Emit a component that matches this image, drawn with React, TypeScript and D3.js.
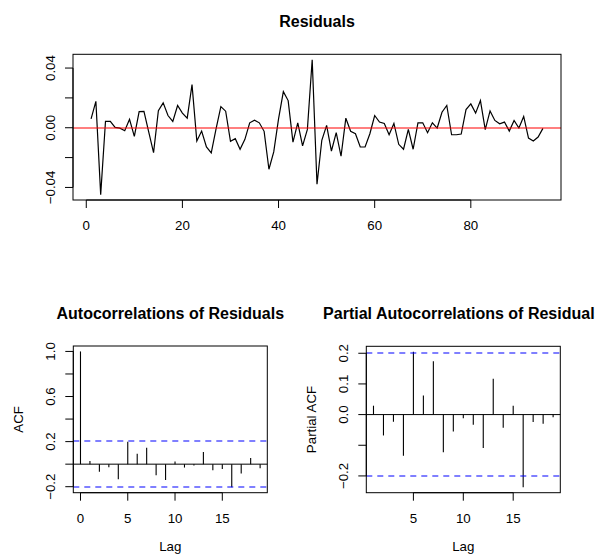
import React from "react";
import * as d3 from "d3";

// residual series, t = 1..95
const residuals = [
  0.006, 0.0177, -0.0448, 0.0043, 0.0043, 0.0002, -0.0003, -0.002, 0.0057, -0.0058,
  0.0108, 0.011, -0.003, -0.0167, 0.0114, 0.0167, 0.0082, 0.0042, 0.0149, 0.0098,
  0.0064, 0.0289, -0.0089, -0.0022, -0.0129, -0.0169, -0.0007, 0.0142, 0.0111, -0.0091,
  -0.0073, -0.0144, -0.0078, 0.0033, 0.0051, 0.0033, -0.0024, -0.0278, -0.0162, 0.006,
  0.0242, 0.0182, -0.0096, 0.0033, -0.0122, -0.0011, 0.0456, -0.0378, -0.0084, 0.0016,
  -0.0156, -0.0033, -0.0191, 0.0064, -0.0024, -0.004, -0.0129, -0.0129, -0.004, 0.0082,
  0.0038, 0.0029, -0.0047, 0.0029, -0.0111, -0.0144, -0.0011, -0.0144, 0.0033, 0.0033,
  -0.0033, 0.0033, -0.0002, 0.0104, 0.0149, -0.0047, -0.0047, -0.0042, 0.0122, 0.016,
  0.0098, 0.0182, -0.0013, 0.0113, 0.0049, 0.0027, 0.0038, -0.0022, 0.0049, -0.0002,
  0.0076, -0.0069, -0.0089, -0.0062, -0.0004,
];

// autocorrelations, lag 0..19
const acfValues = [
  1.0, 0.027, -0.068, -0.027, -0.134, 0.199, 0.092, 0.146, -0.098, -0.14,
  0.024, -0.03, -0.012, 0.107, -0.054, -0.042, -0.205, -0.083, 0.054, -0.036,
];

// partial autocorrelations, lag 1..19
const pacfValues = [
  0.029, -0.068, -0.023, -0.134, 0.205, 0.062, 0.174, -0.123, -0.055, -0.012,
  -0.033, -0.109, 0.117, -0.043, 0.029, -0.237, -0.024, -0.03, -0.009,
];

const ciLimit = 0.2011; // 1.96 / sqrt(n)

const resXTicks = [0, 20, 40, 60, 80];
const resYTicks = [-0.04, -0.02, 0, 0.02, 0.04];
const resYLabels = ["\u22120.04", "", "0.00", "", "0.04"];

const acfXTicks = [0, 5, 10, 15];
const acfYTicks = [-0.2, 0, 0.2, 0.4, 0.6, 0.8, 1.0];
const acfYLabels = ["\u22120.2", "", "0.2", "", "0.6", "", "1.0"];

const pacfXTicks = [5, 10, 15];
const pacfYTicks = [-0.2, -0.1, 0, 0.1, 0.2];
const pacfYLabels = ["\u22120.2", "", "0.0", "0.1", "0.2"];

const FONT = "'Liberation Sans', Arial, Helvetica, sans-serif";

// R style 4% axis extension
const extend = (lo, hi) => {
  const r = hi - lo;
  return [lo - r * 0.04, hi + r * 0.04];
};

// put a thin coloured line on a pixel boundary so it spreads over two rows like R's png
const straddle = (v) => Math.round(v);

const Frame = ({ box, x, y, xTicks, yTicks, yLabels, title, xLabel, yLabel, children }) => {
  const { l, r, t, b } = box;
  return (
    <g>
      {children}
      <rect x={l} y={t} width={r - l} height={b - t} fill="none" stroke="#000" strokeWidth={1} />
      {/* x axis */}
      <line x1={x(xTicks[0])} x2={x(xTicks[xTicks.length - 1])} y1={b} y2={b} stroke="#000" />
      {xTicks.map((d) => (
        <g key={"x" + d}>
          <line x1={x(d)} x2={x(d)} y1={b} y2={b + 8} stroke="#000" />
          <text x={x(d)} y={b + 30} textAnchor="middle" fontSize={13.3}>
            {d}
          </text>
        </g>
      ))}
      {/* y axis */}
      <line x1={l} x2={l} y1={y(yTicks[0])} y2={y(yTicks[yTicks.length - 1])} stroke="#000" />
      {yTicks.map((d, i) => (
        <g key={"y" + i}>
          <line x1={l} x2={l - 8} y1={y(d)} y2={y(d)} stroke="#000" />
          {yLabels[i] && (
            <text
              transform={`translate(${l - 18},${y(d)}) rotate(-90)`}
              textAnchor="middle"
              fontSize={13.3}
            >
              {yLabels[i]}
            </text>
          )}
        </g>
      ))}
      <text x={(l + r) / 2} y={t - 27} textAnchor="middle" fontSize={16} fontWeight="bold">
        {title}
      </text>
      {xLabel && (
        <text x={(l + r) / 2} y={b + 58} textAnchor="middle" fontSize={13.3}>
          {xLabel}
        </text>
      )}
      {yLabel && (
        <text
          transform={`translate(${l - 50},${(t + b) / 2}) rotate(-90)`}
          textAnchor="middle"
          fontSize={13.3}
        >
          {yLabel}
        </text>
      )}
    </g>
  );
};

export default function App() {
  // residuals panel
  const resBox = { l: 73, r: 561, t: 54.3, b: 200 };
  const resX = d3.scaleLinear().domain(extend(1, residuals.length)).range([resBox.l, resBox.r]);
  const [rMin, rMax] = d3.extent(residuals);
  const resY = d3.scaleLinear().domain(extend(rMin, rMax)).range([resBox.b, resBox.t]);
  const resLine = d3
    .line()
    .x((d, i) => resX(i + 1))
    .y((d) => resY(d));

  // acf panel
  const acfBox = { l: 73.3, r: 267.3, t: 346, b: 492.7 };
  const acfX = d3.scaleLinear().domain(extend(0, acfValues.length - 1)).range([acfBox.l, acfBox.r]);
  const acfLo = Math.min(-ciLimit, d3.min(acfValues));
  const acfHi = Math.max(ciLimit, d3.max(acfValues));
  const acfY = d3.scaleLinear().domain(extend(acfLo, acfHi)).range([acfBox.b, acfBox.t]);

  // pacf panel
  const pacfBox = { l: 366.3, r: 560.3, t: 346.3, b: 492.7 };
  const pacfX = d3.scaleLinear().domain(extend(1, pacfValues.length)).range([pacfBox.l, pacfBox.r]);
  const pLo = Math.min(-ciLimit, d3.min(pacfValues));
  const pHi = Math.max(ciLimit, d3.max(pacfValues));
  const pacfY = d3.scaleLinear().domain(extend(pLo, pHi)).range([pacfBox.b, pacfBox.t]);

  const dash = "6,5";
  const blue = "#0000ff";

  const ciLines = (box, y) =>
    [ciLimit, -ciLimit].map((c) => (
      <line
        key={"ci" + c}
        x1={box.l}
        x2={box.r}
        y1={straddle(y(c))}
        y2={straddle(y(c))}
        stroke={blue}
        strokeWidth={1.2}
        strokeDasharray={dash}
      />
    ));

  return (
    <svg
      width={595}
      height={556}
      style={{ position: "absolute", left: 0, top: 0, background: "#fff" }}
      fontFamily={FONT}
    >
      <rect width={595} height={556} fill="#fff" />

      <Frame box={resBox} x={resX} y={resY} xTicks={resXTicks} yTicks={resYTicks} yLabels={resYLabels} title="Residuals">
        <path d={resLine(residuals)} fill="none" stroke="#000" strokeWidth={1.2} />
        <line
          x1={resBox.l}
          x2={resBox.r}
          y1={straddle(resY(0))}
          y2={straddle(resY(0))}
          stroke="#ff0000"
          strokeWidth={1.2}
        />
      </Frame>

      <Frame
        box={acfBox}
        x={acfX}
        y={acfY}
        xTicks={acfXTicks}
        yTicks={acfYTicks}
        yLabels={acfYLabels}
        title="Autocorrelations of Residuals"
        xLabel="Lag"
        yLabel="ACF"
      >
        <line x1={acfBox.l} x2={acfBox.r} y1={acfY(0)} y2={acfY(0)} stroke="#000" />
        {acfValues.map((v, i) => (
          <line key={i} x1={acfX(i)} x2={acfX(i)} y1={acfY(0)} y2={acfY(v)} stroke="#000" strokeWidth={1.1} />
        ))}
        {ciLines(acfBox, acfY)}
      </Frame>

      <Frame
        box={pacfBox}
        x={pacfX}
        y={pacfY}
        xTicks={pacfXTicks}
        yTicks={pacfYTicks}
        yLabels={pacfYLabels}
        title="Partial Autocorrelations of Residuals"
        xLabel="Lag"
        yLabel="Partial ACF"
      >
        <line x1={pacfBox.l} x2={pacfBox.r} y1={pacfY(0)} y2={pacfY(0)} stroke="#000" />
        {pacfValues.map((v, i) => (
          <line key={i} x1={pacfX(i + 1)} x2={pacfX(i + 1)} y1={pacfY(0)} y2={pacfY(v)} stroke="#000" strokeWidth={1.1} />
        ))}
        {ciLines(pacfBox, pacfY)}
      </Frame>
    </svg>
  );
}
